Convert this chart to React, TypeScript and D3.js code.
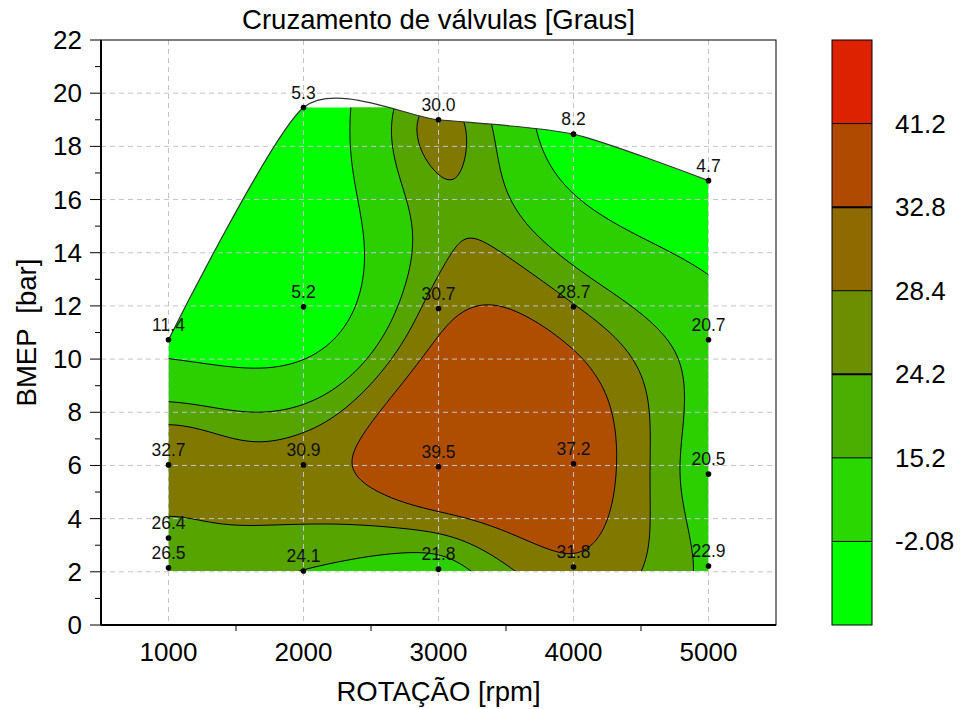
import React, { useMemo } from 'react';
import * as d3 from 'd3';

// Measured operating points: engine speed [rpm], BMEP [bar] and valve overlap [deg]
const rpm = [1000, 2000, 3000, 4000, 5000, 2000, 3000, 4000, 5000, 1000, 2000, 3000, 4000, 5000, 1000, 1000, 2000, 3000, 4000, 5000];
const bmep = [10.73, 19.46, 19.0, 18.46, 16.71, 11.97, 11.9, 11.97, 10.73, 6.02, 6.02, 5.95, 6.06, 5.68, 3.27, 2.15, 2.03, 2.1, 2.18, 2.22];
const overlap = [11.4, 5.3, 30.0, 8.2, 4.7, 5.2, 30.7, 28.7, 20.7, 32.7, 30.9, 39.5, 37.2, 20.5, 26.4, 26.5, 24.1, 21.8, 31.8, 22.9];

// Upper envelope of the measured area (indices into the arrays above)
const envelope = [0, 1, 2, 3, 4];

// Contour levels and colours
const levels = [-2.08, 15.2, 24.2, 28.4, 32.8, 41.2];
const barColors = ['#00ff00', '#2ad800', '#4aaf00', '#6b8f00', '#8f6a00', '#b04a00', '#dc2200'];
const fillThresholds = [15.2, 24.2, 28.4, 32.8, 41.2];
const fillColors = ['#00ff00', '#2ccf00', '#55a400', '#817800', '#b04e00', '#dc2200'];

const xTicks = [1000, 2000, 3000, 4000, 5000];
const xMinor = [1500, 2500, 3500, 4500];
const yTicks = [0, 2, 4, 6, 8, 10, 12, 14, 16, 18, 20, 22];
const yMinor = [1, 3, 5, 7, 9, 11, 13, 15, 17, 19, 21];

const FONT = '"Liberation Sans", Arial, sans-serif';

function solveLinear(A: number[][]): number[] {
  const n = A.length;
  for (let c = 0; c < n; c++) {
    let p = c;
    for (let r = c + 1; r < n; r++) if (Math.abs(A[r][c]) > Math.abs(A[p][c])) p = r;
    const tmp = A[c]; A[c] = A[p]; A[p] = tmp;
    for (let r = 0; r < n; r++) {
      if (r === c) continue;
      const k = A[r][c] / A[c][c];
      if (k === 0) continue;
      for (let j = c; j <= n; j++) A[r][j] -= k * A[c][j];
    }
  }
  return A.map((row, i) => row[n] / row[i]);
}

// Thin-plate spline through the measured points
function thinPlate(us: number[], vs: number[], fs: number[]) {
  const n = us.length;
  const N = n + 3;
  const phi = (r2: number) => (r2 <= 1e-12 ? 0 : 0.5 * r2 * Math.log(r2));
  const A: number[][] = Array.from({ length: N }, () => new Array(N + 1).fill(0));
  for (let i = 0; i < n; i++) {
    for (let j = 0; j < n; j++) {
      const du = us[i] - us[j], dv = vs[i] - vs[j];
      A[i][j] = phi(du * du + dv * dv);
    }
    A[i][n] = 1; A[i][n + 1] = us[i]; A[i][n + 2] = vs[i];
    A[n][i] = 1; A[n + 1][i] = us[i]; A[n + 2][i] = vs[i];
    A[i][N] = fs[i];
  }
  const sol = solveLinear(A);
  return (u: number, v: number) => {
    let s = sol[n] + sol[n + 1] * u + sol[n + 2] * v;
    for (let i = 0; i < n; i++) {
      const du = u - us[i], dv = v - vs[i];
      s += sol[i] * phi(du * du + dv * dv);
    }
    return s;
  };
}

export default function App() {
  const W = 963, H = 709;
  const x = d3.scaleLinear().domain([500, 5500]).range([101, 776]);
  const y = d3.scaleLinear().domain([0, 22]).range([625, 40]);

  const model = useMemo(() => {
    const us = rpm.map((r) => x(r) / 100);
    const vs = bmep.map((b) => y(b) / 100);
    const f = thinPlate(us, vs, overlap);

    const step = 2;
    const gx0 = x(900), gx1 = x(5100);
    const gy0 = y(20.5), gy1 = y(1.5);
    const nx = Math.ceil((gx1 - gx0) / step) + 1;
    const ny = Math.ceil((gy1 - gy0) / step) + 1;
    const values = new Array(nx * ny);
    for (let j = 0; j < ny; j++) {
      for (let i = 0; i < nx; i++) {
        values[j * nx + i] = f((gx0 + i * step) / 100, (gy0 + j * step) / 100);
      }
    }
    const contours = d3.contours().size([nx, ny]).thresholds(fillThresholds)(values);
    const proj = d3.geoTransform({
      point(px: number, py: number) {
        (this as any).stream.point(gx0 + (px - 0.5) * step, gy0 + (py - 0.5) * step);
      },
    });
    const path = d3.geoPath(proj);
    const bands = contours.map((c, i) => ({ d: path(c as any) || '', color: fillColors[i + 1] }));

    const yMin = d3.min(bmep) as number;
    const yMax = d3.max(bmep) as number;
    const envPts: [number, number][] = envelope.map((k) => [x(rpm[k]), y(bmep[k])]);
    const envLine = d3.line().curve(d3.curveCardinal.tension(0.3))(envPts) || '';
    const clipD = `${envLine}L${x(rpm[envelope[envelope.length - 1]])},${y(yMin)}L${x(rpm[envelope[0]])},${y(yMin)}Z`;
    return { bands, envLine, clipD, yMin, yMax };
  }, []);

  const barX = 832, barW = 40, barTop = 40, barBottom = 625;
  const bandH = (barBottom - barTop) / barColors.length;

  return (
    <svg width={W} height={H} style={{ position: 'absolute', left: 0, top: 0, background: '#fff' }} fontFamily={FONT}>
      <defs>
        <clipPath id="area-clip">
          <path d={model.clipD} />
        </clipPath>
        <clipPath id="data-box">
          <rect x={x(1000)} y={y(model.yMax)} width={x(5000) - x(1000)} height={y(model.yMin) - y(model.yMax)} />
        </clipPath>
      </defs>

      {/* filled contour bands */}
      <g clipPath="url(#area-clip)">
        <g clipPath="url(#data-box)">
          <rect x={x(900)} y={y(21)} width={x(5100) - x(900)} height={y(1) - y(21)} fill={fillColors[0]} />
          {model.bands.map((b, i) => (
            <path key={i} d={b.d} fill={b.color} stroke="none" />
          ))}
        </g>
      </g>

      {/* grid */}
      <g stroke="#c4c4c4" strokeWidth={1} strokeDasharray="5,4">
        {xTicks.map((t) => (
          <line key={'gx' + t} x1={x(t)} x2={x(t)} y1={y(22)} y2={y(0)} />
        ))}
        {yTicks.filter((t) => t > 0 && t < 22).map((t) => (
          <line key={'gy' + t} x1={x(500)} x2={x(5500)} y1={y(t)} y2={y(t)} />
        ))}
      </g>

      {/* contour lines */}
      <g clipPath="url(#area-clip)">
        <g clipPath="url(#data-box)">
          {model.bands.map((b, i) => (
            <path key={i} d={b.d} fill="none" stroke="#000" strokeWidth={1} />
          ))}
        </g>
      </g>

      {/* envelope of measured area */}
      <path d={model.envLine} fill="none" stroke="#333" strokeWidth={1.2} />

      {/* frame and axes */}
      <rect x={x(500)} y={y(22)} width={x(5500) - x(500)} height={y(0) - y(22)} fill="none" stroke="#000" strokeWidth={1} />
      <line x1={x(500)} x2={x(500)} y1={y(22)} y2={y(0)} stroke="#000" strokeWidth={2} />
      <line x1={x(500)} x2={x(5500)} y1={y(0)} y2={y(0)} stroke="#000" strokeWidth={2} />
      <g stroke="#000" strokeWidth={1}>
        {yTicks.map((t) => (
          <line key={'ty' + t} x1={x(500) - 11} x2={x(500)} y1={y(t)} y2={y(t)} />
        ))}
        {yMinor.map((t) => (
          <line key={'my' + t} x1={x(500) - 6} x2={x(500)} y1={y(t)} y2={y(t)} />
        ))}
        {xMinor.map((t) => (
          <line key={'mx' + t} x1={x(t)} x2={x(t)} y1={y(0)} y2={y(0) + 6} />
        ))}
      </g>
      <g fontSize={26} fill="#000">
        {yTicks.map((t) => (
          <text key={'ly' + t} x={82} y={y(t)} textAnchor="end" dominantBaseline="central">{t}</text>
        ))}
        {xTicks.map((t) => (
          <text key={'lx' + t} x={x(t)} y={661} textAnchor="middle">{t}</text>
        ))}
      </g>
      <g fontSize={27.5} fill="#000">
        <text x={(x(500) + x(5500)) / 2} y={701} textAnchor="middle">ROTAÇÃO [rpm]</text>
        <text
          transform={`translate(36, ${(y(0) + y(22)) / 2}) rotate(-90)`}
          textAnchor="middle"
          style={{ whiteSpace: 'pre' }}
        >
          {'BMEP  [bar]'}
        </text>
        <text x={(x(500) + x(5500)) / 2} y={29} textAnchor="middle">Cruzamento de válvulas [Graus]</text>
      </g>

      {/* measured points */}
      <g>
        {rpm.map((r, i) => (
          <g key={'p' + i}>
            <circle cx={x(r)} cy={y(bmep[i])} r={2.8} fill="#000" />
            <text x={x(r)} y={y(bmep[i]) - 9} textAnchor="middle" fontSize={17.5} fill="#111">
              {overlap[i].toFixed(1)}
            </text>
          </g>
        ))}
      </g>

      {/* colour bar */}
      <g>
        {barColors.map((c, i) => (
          <rect key={'cb' + i} x={barX} y={barBottom - (i + 1) * bandH} width={barW} height={bandH} fill={c} />
        ))}
        {levels.map((lv, i) => {
          const yy = barBottom - (i + 1) * bandH;
          const thick = lv === 32.8 || lv === 24.2;
          return (
            <g key={'lv' + i}>
              <line x1={barX} x2={barX + barW} y1={yy} y2={yy} stroke="#000" strokeWidth={thick ? 2 : 1} />
              <text x={895} y={yy} dominantBaseline="central" fontSize={26} fill="#000">{lv}</text>
            </g>
          );
        })}
        <rect x={barX} y={barTop} width={barW} height={barBottom - barTop} fill="none" stroke="#000" strokeWidth={1} />
      </g>
    </svg>
  );
}
